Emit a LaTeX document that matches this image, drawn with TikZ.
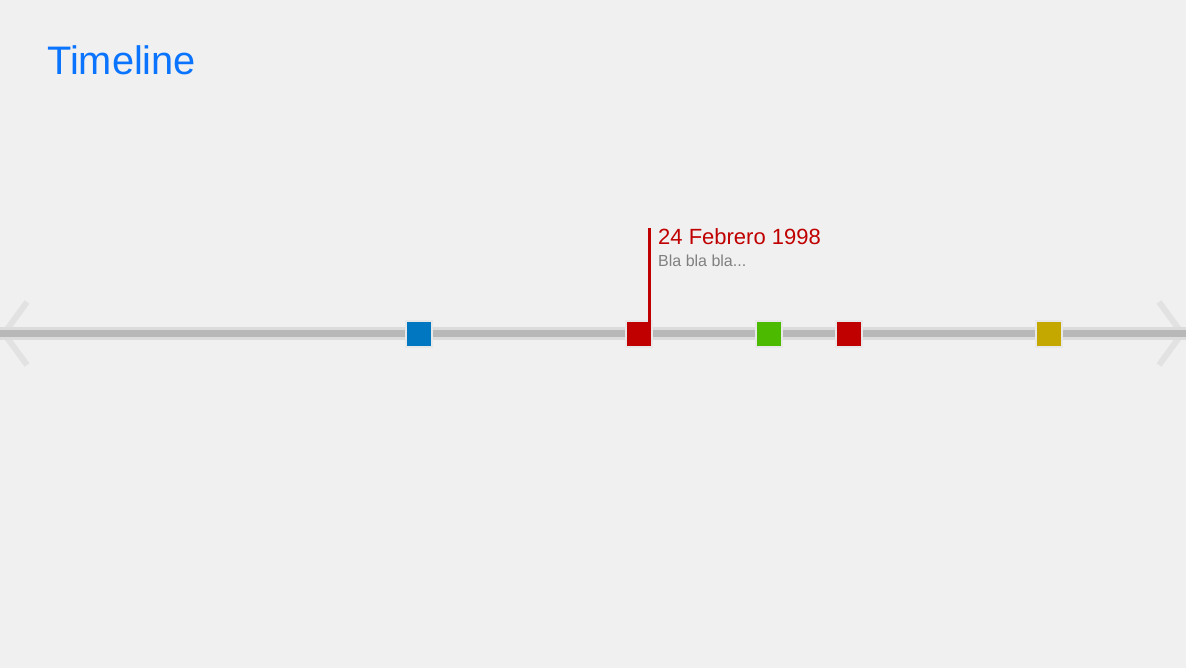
\documentclass[tikz,border=0pt]{standalone}
\usepackage{fontspec}
\setmainfont{Liberation Sans}
\definecolor{bg}{HTML}{F0F0F0}
\definecolor{barout}{HTML}{DCDCDC}
\definecolor{barin}{HTML}{B8B8B8}
\definecolor{chev}{HTML}{E2E2E2}
\definecolor{tblue}{HTML}{0A74FF}
\definecolor{mblue}{HTML}{0077C0}
\definecolor{mred}{HTML}{C00000}
\definecolor{mgreen}{HTML}{4CBB00}
\definecolor{myellow}{HTML}{C4A800}
\definecolor{txtgrey}{HTML}{808080}
\definecolor{mborder}{HTML}{E8E8E8}
\begin{document}
\begin{tikzpicture}[x=1pt,y=-1pt,
  marker/.style={draw=mborder, line width=2pt, minimum size=26pt, inner sep=0pt, outer sep=0pt},
  chevron/.style={draw=chev, line width=6pt, line cap=butt, line join=miter}]
\useasboundingbox (0,0) rectangle (1186,668);
\fill[bg] (0,0) rectangle (1186,668);
% chevrons
\coordinate (l1) at (27,302); \coordinate (l2) at (4,333.5); \coordinate (l3) at (27,365);
\coordinate (r1) at (1159,302); \coordinate (r2) at (1182,333.5); \coordinate (r3) at (1159,365);
\draw[chevron] (l1) -- (l2) -- (l3);
\draw[chevron] (r1) -- (r2) -- (r3);
% bar
\coordinate (bl) at (0,333.5); \coordinate (br) at (1186,333.5);
\draw[barout, line width=12.5pt] (bl) -- (br);
\draw[barin, line width=7pt] (bl) -- (br);
% markers
\node[marker, fill=mblue] (m1) at (419,334) {};
\node[marker, fill=mred] (m2) at (639,334) {};
\node[marker, fill=mgreen] (m3) at (769,334) {};
\node[marker, fill=mred] (m4) at (849,334) {};
\node[marker, fill=myellow] (m5) at (1049,334) {};
% callout
\coordinate (ctop) at (649.5,228);
\draw[mred, line width=3pt] ([xshift=-2.5pt,yshift=-1pt]m2.north east) -- (ctop);
\node[anchor=base west, inner sep=0pt, text=mred, font=\fontsize{22}{26}\selectfont] (date) at (658,244.5) {24 Febrero 1998};
\node[anchor=base west, inner sep=0pt, text=txtgrey, font=\fontsize{16}{19}\selectfont] (desc) at (658,267) {Bla bla bla...};
% title
\node[anchor=base west, inner sep=0pt, text=tblue, font=\fontsize{39.8}{46}\selectfont] (title) at (47,75) {Timeline};
\end{tikzpicture}
\end{document}
